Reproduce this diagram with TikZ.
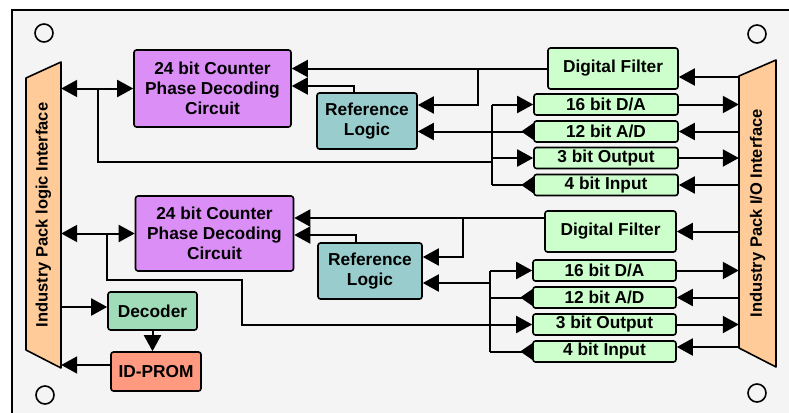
\documentclass[tikz,border=0pt]{standalone}
\usepackage{fontspec}
\setmainfont{Liberation Sans}
\usetikzlibrary{arrows.meta,calc}
\definecolor{bgc}{HTML}{F4F4F4}
\definecolor{cntc}{HTML}{DA8EF6}
\definecolor{refc}{HTML}{99CCCC}
\definecolor{bitc}{HTML}{CCFFCC}
\definecolor{decc}{HTML}{A0DCB8}
\definecolor{promc}{HTML}{FF9980}
\definecolor{ipc}{HTML}{FFCC99}
\newcommand\boxfont{\fontsize{17.3}{20}\selectfont\bfseries}
\newcommand\ipfont{\fontsize{16.5}{19}\selectfont\bfseries}
\tikzset{
  tri/.tip={Triangle[length=16pt,width=17pt]},
  rtri/.tip={Triangle[reversed,length=12pt,width=16pt]},
  >=tri,
  box/.style={draw=black, line width=1.6pt, rounded corners=2.5pt, inner sep=0pt, align=center, font=\boxfont},
  cntbox/.style={box, fill=cntc},
  refbox/.style={box, fill=refc, minimum height=56pt},
  filtbox/.style={box, fill=bitc, minimum height=41pt},
  bitbox/.style={box, fill=bitc, minimum height=21pt},
  conn/.style={line width=2pt},
  rev/.style={conn, -rtri},
  lrev/.style={conn, tri-rtri},
  hole/.style={draw=black, line width=1.6pt},
  ipshape/.style={draw=black, line width=1.6pt, fill=ipc, line join=round},
}
\begin{document}
\begin{tikzpicture}[x=1pt,y=-1pt]
\useasboundingbox (0,0) rectangle (789,412);
\fill[white] (0,0) rectangle (789,412);
\draw[fill=bgc, line width=2pt] (12,10) rectangle (800,425);

% holes
\draw[hole] (44,33) circle (9);
\draw[hole] (757,34) circle (9);
\draw[hole] (45,395) circle (9);
\draw[hole] (757,393) circle (9);

% interface shapes
\draw[ipshape] (26,78) -- (61,62) -- (61,368) -- (26,350) -- cycle;
\draw[ipshape] (739,76) -- (776,60) -- (776,367) -- (739,348) -- cycle;
\node[minimum width=35pt, minimum height=306pt, inner sep=0pt, font=\ipfont] (ipl) at (43.5,215) {\rotatebox{90}{Industry Pack logic Interface}};
\node[minimum width=37pt, minimum height=307pt, inner sep=0pt, font=\ipfont] (ipr) at (757.5,213.5) {\rotatebox{90}{Industry Pack I/O Interface}};

% upper blocks
\node[cntbox, minimum width=157pt, minimum height=77pt] (cntA) at (212.5,88.5) {24 bit Counter\\Phase Decoding\\Circuit};
\node[refbox, minimum width=100pt] (refA) at (367,121) {Reference\\Logic};
\node[filtbox, minimum width=130pt] (filtA) at (613,68.5) {Digital Filter};
\node[bitbox, minimum width=144pt] (daA) at (606,104.5) {16 bit D/A};
\node[bitbox, minimum width=144pt] (adA) at (606,131.5) {12 bit A/D};
\node[bitbox, minimum width=144pt] (outA) at (606,158) {3 bit Output};
\node[bitbox, minimum width=144pt] (inA) at (606,185) {4 bit Input};

% lower blocks
\node[cntbox, minimum width=158pt, minimum height=75pt] (cntB) at (214.5,233.5) {24 bit Counter\\Phase Decoding\\Circuit};
\node[refbox, minimum width=104pt] (refB) at (370,271) {Reference\\Logic};
\node[filtbox, minimum width=131pt] (filtB) at (610.5,231.5) {Digital Filter};
\node[bitbox, minimum width=143pt] (daB) at (604.5,270.5) {16 bit D/A};
\node[bitbox, minimum width=143pt] (adB) at (604.5,297.5) {12 bit A/D};
\node[bitbox, minimum width=143pt] (outB) at (604.5,324.5) {3 bit Output};
\node[bitbox, minimum width=143pt] (inB) at (604.5,351.5) {4 bit Input};

\node[box, fill=decc, minimum width=89pt, minimum height=38pt] (dec) at (152.5,311) {Decoder};
\node[box, fill=promc, minimum width=90pt, minimum height=39pt] (prom) at (156,371.5) {ID-PROM};

% ---------- upper connectors
\coordinate (jA) at (98,88.5);
\coordinate (busA) at (492,0);
\coordinate (bAmid) at (492,162);
\draw[conn,<->] (ipl.east |- cntA.west) -- (cntA.west);
\draw[conn] (jA) |- (bAmid);
\draw[conn] (busA |- daA.west) -- (busA |- inA.west);
\draw[conn,->] (busA |- daA.west) -- (daA.west);
\draw[conn,->] (busA |- outA.west) -- (outA.west);
\draw[rev] (busA |- inA.west) -- (inA.west);
\draw[lrev] (refA.east |- adA.west) -- (adA.west);

\coordinate (kA) at (478,68.5);
\draw[conn,->] (filtA.west) -- (cntA.east |- filtA.west);
\draw[conn,->] (kA) |- ([yshift=16pt]refA.east);
\draw[conn,->] ([xshift=-13pt]refA.north) |- ([yshift=2.5pt]cntA.east);

\coordinate (fA) at ([yshift=-8.5pt]filtA.east);
\draw[conn,->] (ipr.west |- fA) -- (fA);
\draw[conn,->] (daA.east) -- (ipr.west |- daA.east);
\draw[conn,<-] (adA.east) -- (ipr.west |- adA.east);
\draw[conn,->] (outA.east) -- (ipr.west |- outA.east);
\draw[conn,<-] (inA.east) -- (ipr.west |- inA.east);

% ---------- lower connectors
\coordinate (jB) at (107,233.5);
\coordinate (kB) at (242,280);
\coordinate (busB) at (490,0);
\draw[conn,<->] (ipl.east |- cntB.west) -- (cntB.west);
\draw[conn,->] (jB) |- (kB) |- (outB.west);
\draw[conn] (busB |- daB.west) -- (busB |- inB.west);
\draw[conn,->] (busB |- daB.west) -- (daB.west);
\draw[rev] (busB |- adB.west) -- (adB.west);
\draw[rev] (busB |- inB.west) -- (inB.west);
\coordinate (rB) at ([yshift=-12pt]refB.east);
\draw[conn,->] (busB |- rB) -- (rB);

\coordinate (fBl) at ([yshift=13.5pt]filtB.west);
\coordinate (kB2) at (463,218);
\draw[conn,->] (fBl) -- (cntB.east |- fBl);
\draw[conn,->] (kB2) |- ([yshift=14pt]refB.east);
\draw[conn,->] ([xshift=-14pt]refB.north) |- ([yshift=-1.5pt]cntB.east);

\coordinate (iB) at ([yshift=4.5pt]inB.east);
\draw[conn,->] (ipr.west |- filtB.east) -- (filtB.east);
\draw[conn,->] (daB.east) -- (ipr.west |- daB.east);
\draw[conn,<-] (adB.east) -- (ipr.west |- adB.east);
\draw[conn,->] (outB.east) -- (ipr.west |- outB.east);
\draw[conn,->] (ipr.west |- iB) -- (iB);

% decoder / prom
\coordinate (dd) at ([yshift=4pt]dec.west);
\coordinate (pp) at ([yshift=6.5pt]prom.west);
\draw[conn,->] (ipl.east |- dd) -- (dd);
\draw[conn,->] (dec.south) -- (dec.south |- prom.north);
\draw[conn,->] (pp) -- (ipl.east |- pp);
\end{tikzpicture}
\end{document}
